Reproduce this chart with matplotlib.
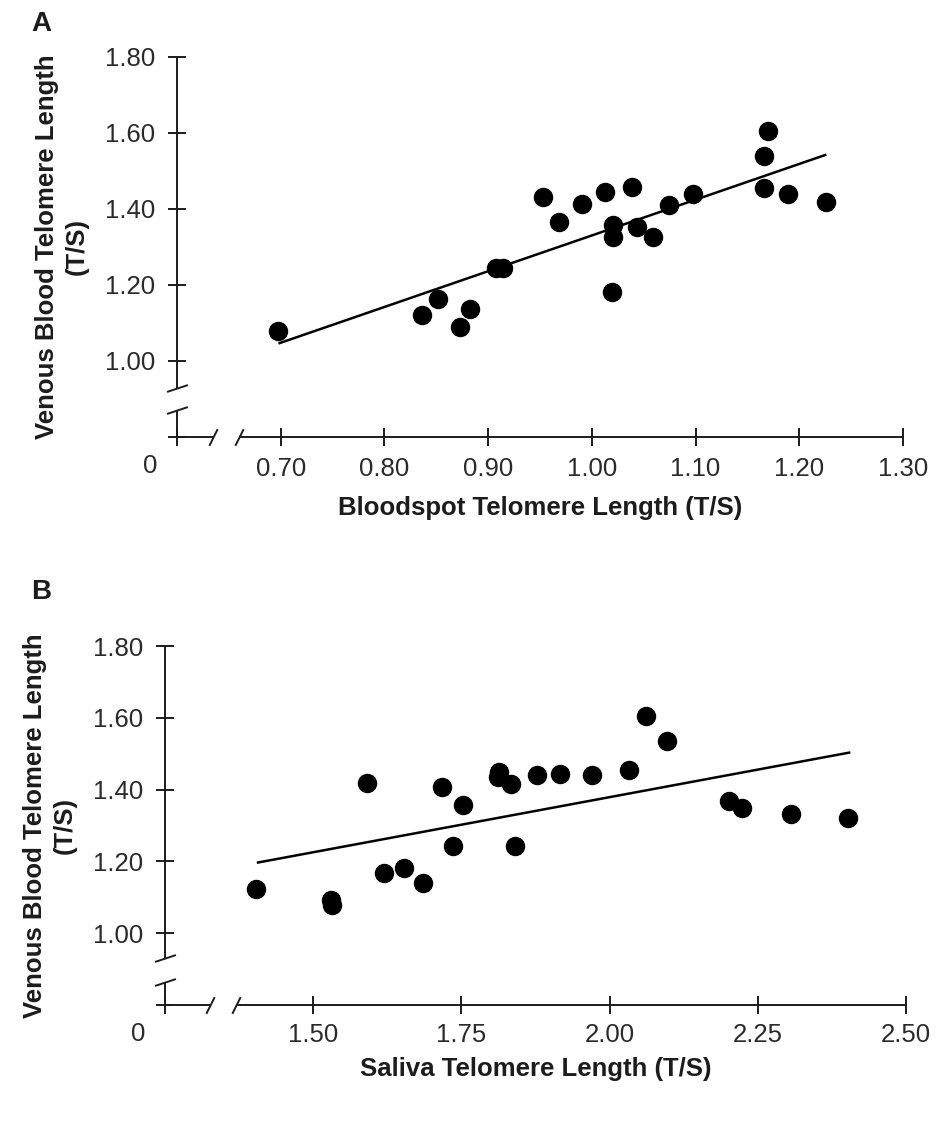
import matplotlib
matplotlib.use("Agg")
import matplotlib.pyplot as plt
import numpy as np

plt.rcParams["font.family"] = ["Liberation Sans", "DejaVu Sans"]

# -------------------------
# data
# -------------------------

# panel A: bloodspot vs venous blood
spot_x = [0.697, 0.836, 0.852, 0.873, 0.883, 0.908, 0.914, 0.953, 0.968, 0.991,
          1.013, 1.020, 1.020, 1.019, 1.039, 1.044, 1.059, 1.074, 1.098, 1.166,
          1.170, 1.166, 1.189, 1.226]
spot_y = [1.079, 1.121, 1.163, 1.089, 1.137, 1.245, 1.245, 1.432, 1.366, 1.413,
          1.445, 1.358, 1.326, 1.182, 1.458, 1.353, 1.327, 1.411, 1.439, 1.539,
          1.605, 1.455, 1.439, 1.419]
spot_fit_x = [0.699, 1.225]
spot_fit_y = [1.047, 1.542]

# panel B: saliva vs venous blood
saliva_x = [1.404, 1.530, 1.532, 1.591, 1.620, 1.654, 1.686, 1.718, 1.735, 1.752,
            1.811, 1.814, 1.834, 1.841, 1.878, 1.917, 1.970, 2.032, 2.062, 2.096,
            2.201, 2.223, 2.306, 2.402]
saliva_y = [1.122, 1.092, 1.080, 1.419, 1.167, 1.183, 1.139, 1.408, 1.244, 1.356,
            1.436, 1.450, 1.417, 1.244, 1.442, 1.444, 1.442, 1.456, 1.606, 1.536,
            1.367, 1.350, 1.331, 1.322]
saliva_fit_x = [1.407, 2.404]
saliva_fit_y = [1.197, 1.503]

y_ticks = [1.00, 1.20, 1.40, 1.60, 1.80]
a_ticks = [0.70, 0.80, 0.90, 1.00, 1.10, 1.20, 1.30]
b_ticks = [1.50, 1.75, 2.00, 2.25, 2.50]

ylabel = "Venous Blood Telomere Length\n(T/S)"

# -------------------------
# helpers
# -------------------------

INK = "#1c1c1c"
FS = 18.5


def broken_axes(ax, xlim, ylim, xbreak, ybreak, xticks, yticks, xpad):
    ax.set_xlim(*xlim)
    ax.set_ylim(*ylim)
    for s in ax.spines.values():
        s.set_visible(False)

    lw = 1.4
    kw = dict(color=INK, lw=lw, clip_on=False, solid_capstyle="butt")
    # y axis, two pieces
    ax.plot([xlim[0], xlim[0]], [ylim[0], ybreak[0]], **kw)
    ax.plot([xlim[0], xlim[0]], [ybreak[1], ylim[1]], **kw)
    # x axis, two pieces
    ax.plot([xlim[0], xbreak[0]], [ylim[0], ylim[0]], **kw)
    ax.plot([xbreak[1], xlim[1]], [ylim[0], ylim[0]], **kw)

    # slashes
    ax.plot([xlim[0], xlim[0]], ybreak, marker=[(-1, -0.33), (1, 0.33)],
            markersize=15, ls="none", mec=INK, mew=lw, clip_on=False)
    ax.plot(xbreak, [ylim[0], ylim[0]], marker=[(-0.5, -1), (0.5, 1)],
            markersize=12, ls="none", mec=INK, mew=lw, clip_on=False)

    ax.set_xticks([xlim[0]] + xticks)
    ax.set_xticklabels([""] + ["%.2f" % t for t in xticks])
    ax.set_yticks([ylim[0]] + yticks)
    ax.set_yticklabels([""] + ["%.2f" % t for t in yticks])
    ax.tick_params(axis="both", direction="inout", length=13, width=lw,
                   color=INK, labelcolor="#2a2a2a", labelsize=FS)
    ax.tick_params(axis="x", pad=xpad)
    ax.tick_params(axis="y", pad=9)
    ax.annotate("0", xy=(0, 0), xycoords="axes fraction", xytext=(-19, -21),
                textcoords="offset points", ha="center", va="center",
                fontsize=FS, color="#2a2a2a")


# -------------------------
# plot
# -------------------------

fig = plt.figure(figsize=(9.52, 11.46), dpi=100)

ax1 = fig.add_axes([0.1859, 0.6187, 0.7626, 0.3316])
broken_axes(ax1, (0.60, 1.30), (0.80, 1.80), (0.635, 0.660), (0.871, 0.929),
            a_ticks, y_ticks, 8)
ax1.plot(spot_fit_x, spot_fit_y, color="black", lw=1.8)
ax1.plot(spot_x, spot_y, "o", color="black", markersize=13, ls="none")
ax1.set_xlabel("Bloodspot Telomere Length (T/S)", fontsize=FS,
               fontweight="bold", color=INK, labelpad=11)
ax1.set_ylabel(ylabel, fontsize=FS, fontweight="bold", color=INK,
               labelpad=12, linespacing=1.3)

ax2 = fig.add_axes([0.1733, 0.1230, 0.7784, 0.3133])
broken_axes(ax2, (1.25, 2.50), (0.80, 1.80), (1.326, 1.370), (0.864, 0.931),
            b_ticks, y_ticks, 6.5)
ax2.plot(saliva_fit_x, saliva_fit_y, color="black", lw=1.8)
ax2.plot(saliva_x, saliva_y, "o", color="black", markersize=13, ls="none")
ax2.set_xlabel("Saliva Telomere Length (T/S)", fontsize=FS,
               fontweight="bold", color=INK, labelpad=7)
ax2.set_ylabel(ylabel, fontsize=FS, fontweight="bold", color=INK,
               labelpad=12, linespacing=1.3)

fig.text(41 / 952, 1 - 24 / 1146, "A", fontsize=20, fontweight="bold",
         ha="center", va="center", color=INK)
fig.text(41 / 952, 1 - 592 / 1146, "B", fontsize=20, fontweight="bold",
         ha="center", va="center", color=INK)

fig.savefig("out.png", dpi=100)
